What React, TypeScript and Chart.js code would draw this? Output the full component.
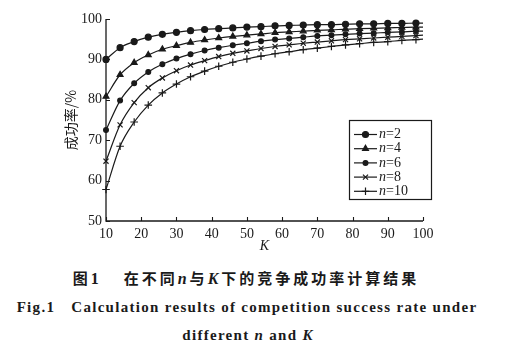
import React, { useEffect, useRef } from 'react';
import { Chart, registerables } from 'chart.js';
import { drawPoint } from 'chart.js/helpers';

Chart.register(...registerables);

const kValues = [10, 14, 18, 22, 26, 30, 34, 38, 42, 46, 50, 54, 58, 62, 66, 70, 74, 78, 82, 86, 90, 94, 98, 100];
const nLabels = ['2', '4', '6', '8', '10'];
const rateN2 = [90.0, 92.9, 94.4, 95.5, 96.2, 96.7, 97.1, 97.4, 97.6, 97.8, 98.0, 98.1, 98.3, 98.4, 98.5, 98.6, 98.6, 98.7, 98.8, 98.8, 98.9, 98.9, 99.0, 99.0];
const rateN4 = [80.8, 86.2, 89.2, 91.1, 92.5, 93.4, 94.2, 94.8, 95.3, 95.7, 96.0, 96.3, 96.6, 96.8, 97.0, 97.2, 97.3, 97.5, 97.6, 97.7, 97.8, 97.9, 98.0, 98.0];
const rateN6 = [72.5, 79.8, 84.1, 86.9, 88.8, 90.2, 91.3, 92.2, 92.9, 93.5, 94.0, 94.5, 94.9, 95.2, 95.5, 95.8, 96.0, 96.2, 96.4, 96.5, 96.7, 96.8, 97.0, 97.0];
const rateN8 = [64.8, 73.8, 79.3, 83.0, 85.4, 87.2, 88.6, 89.7, 90.7, 91.5, 92.1, 92.7, 93.2, 93.6, 94.0, 94.3, 94.6, 94.9, 95.1, 95.3, 95.5, 95.7, 95.9, 96.0];
const rateN10 = [57.8, 68.5, 74.5, 78.7, 81.7, 83.9, 85.7, 87.1, 88.3, 89.3, 90.1, 90.8, 91.4, 91.9, 92.4, 92.8, 93.2, 93.6, 93.9, 94.2, 94.4, 94.7, 94.9, 95.0];
const xTicks = [10, 20, 30, 40, 50, 60, 70, 80, 90, 100];
const yTicks = [50, 60, 70, 80, 90, 100];

const seriesValues = [rateN2, rateN4, rateN6, rateN8, rateN10];
const pointStyles = ['circle', 'triangle', 'circle', 'crossRot', 'cross'];
const pointRadii = [3.0, 3.4, 2.4, 3.6, 3.8];

const INK = '#1a1a1a';
const SERIF = '"Liberation Serif", "DejaVu Serif", serif';
const CJK = '"Noto Sans CJK SC", sans-serif';

const axesPlugin = {
  id: 'inwardAxes',
  afterDraw(chart: any) {
    const { ctx, chartArea } = chart;
    const xs = chart.scales.x;
    const ys = chart.scales.y;
    ctx.save();
    ctx.strokeStyle = INK;
    ctx.lineWidth = 1.3;
    ctx.beginPath();
    ctx.moveTo(chartArea.left, chartArea.top);
    ctx.lineTo(chartArea.left, chartArea.bottom);
    ctx.lineTo(chartArea.right, chartArea.bottom);
    ctx.stroke();
    ctx.lineWidth = 1.1;
    ctx.beginPath();
    xTicks.forEach((v) => {
      const px = Math.round(xs.getPixelForValue(v)) + 0.5;
      ctx.moveTo(px, chartArea.bottom);
      ctx.lineTo(px, chartArea.bottom - 4);
    });
    yTicks.forEach((v) => {
      const py = Math.round(ys.getPixelForValue(v)) + 0.5;
      ctx.moveTo(chartArea.left, py);
      ctx.lineTo(chartArea.left + 4, py);
    });
    ctx.stroke();
    ctx.restore();
  },
};

const legendPlugin = {
  id: 'boxLegend',
  afterDraw(chart: any) {
    const { ctx, chartArea } = chart;
    const x0 = chartArea.right - 74;
    const y0 = chartArea.top + 101;
    const w = 82;
    const h = 79;
    ctx.save();
    ctx.fillStyle = '#fff';
    ctx.fillRect(x0, y0, w, h);
    ctx.strokeStyle = INK;
    ctx.lineWidth = 1.2;
    ctx.strokeRect(x0 + 0.5, y0 + 0.5, w, h);
    chart.data.datasets.forEach((ds: any, i: number) => {
      const cy = y0 + 14.5 + i * 14.2;
      ctx.strokeStyle = INK;
      ctx.fillStyle = INK;
      ctx.lineWidth = 1.2;
      ctx.beginPath();
      ctx.moveTo(x0 + 5, cy);
      ctx.lineTo(x0 + 28, cy);
      ctx.stroke();
      drawPoint(ctx, { pointStyle: pointStyles[i], radius: pointRadii[i], borderWidth: 1.2, rotation: 0 } as any, x0 + 16.5, cy);
      ctx.font = `italic 14px ${SERIF}`;
      ctx.textBaseline = 'middle';
      ctx.textAlign = 'left';
      ctx.fillText('n', x0 + 30, cy);
      const nw = ctx.measureText('n').width;
      ctx.font = `14px ${SERIF}`;
      ctx.fillText('=' + nLabels[i], x0 + 30 + nw, cy);
    });
    ctx.restore();
  },
};

export default function App() {
  const canvasRef = useRef<HTMLCanvasElement | null>(null);

  useEffect(() => {
    if (!canvasRef.current) return;
    const datasets = seriesValues.map((vals, i) => ({
      label: 'n=' + nLabels[i],
      data: kValues.map((k, j) => ({ x: k, y: vals[j] })),
      borderColor: INK,
      backgroundColor: INK,
      borderWidth: 1.2,
      pointStyle: pointStyles[i],
      pointRadius: (c: any) => (c.dataIndex === kValues.length - 1 ? 0 : pointRadii[i]),
      pointBorderWidth: 1.2,
      pointBorderColor: INK,
      pointBackgroundColor: INK,
      cubicInterpolationMode: 'monotone',
      fill: false,
      clip: false,
    }));
    const chart = new Chart(canvasRef.current, {
      type: 'line',
      data: { datasets } as any,
      options: {
        animation: false,
        responsive: false,
        maintainAspectRatio: false,
        layout: { padding: { left: 0, top: 19, right: 85, bottom: 0 } },
        plugins: { legend: { display: false }, tooltip: { enabled: false } },
        scales: {
          x: {
            type: 'linear',
            min: 10,
            max: 100,
            grid: { display: false, drawTicks: false },
            border: { display: false },
            ticks: {
              stepSize: 10,
              padding: 5,
              color: INK,
              font: { family: SERIF, size: 14 },
              maxRotation: 0,
            },
            title: {
              display: true,
              text: 'K',
              color: INK,
              font: { family: SERIF, size: 14, style: 'italic' },
              padding: { top: 0, bottom: 6 },
            },
            afterFit: (s: any) => { s.height = 40; },
          },
          y: {
            type: 'linear',
            min: 50,
            max: 100,
            grid: { display: false, drawTicks: false },
            border: { display: false },
            ticks: {
              stepSize: 10,
              padding: 4,
              color: INK,
              font: { family: SERIF, size: 14 },
            },
            title: {
              display: true,
              text: '成功率/%',
              color: INK,
              font: { family: CJK, size: 14 },
              padding: { top: 62, bottom: 0 },
            },
            afterFit: (s: any) => { s.width = 106; },
          },
        },
      } as any,
      plugins: [axesPlugin, legendPlugin],
    });
    return () => chart.destroy();
  }, []);

  const cap: React.CSSProperties = {
    position: 'absolute',
    left: 0,
    width: 508,
    textAlign: 'center',
    color: INK,
    whiteSpace: 'nowrap',
  };

  return (
    <div style={{ position: 'absolute', left: 0, top: 0, width: 508, height: 360, background: '#fff', overflow: 'hidden' }}>
      <canvas ref={canvasRef} width={508} height={261} style={{ position: 'absolute', left: 0, top: 0, width: 508, height: 261 }} />
      <div style={{ ...cap, top: 268, height: 20, lineHeight: '20px', fontFamily: CJK, fontSize: 15, fontWeight: 700, letterSpacing: 3, left: -8 }}>
        图<span style={{ fontFamily: SERIF, fontSize: 16 }}>1</span>
        <span style={{ display: 'inline-block', width: 22 }} />
        在不同<span style={{ fontFamily: SERIF, fontStyle: 'italic', fontSize: 16 }}>n</span>与<span style={{ fontFamily: SERIF, fontStyle: 'italic', fontSize: 16 }}>K</span>下的竞争成功率计算结果
      </div>
      <div style={{ ...cap, top: 297, height: 20, lineHeight: '20px', fontFamily: SERIF, fontSize: 15, fontWeight: 700, letterSpacing: 1.3, left: -7 }}>
        Fig.1<span style={{ display: 'inline-block', width: 16 }} />Calculation results of competition success rate under
      </div>
      <div style={{ ...cap, top: 325, height: 20, lineHeight: '20px', fontFamily: SERIF, fontSize: 15, fontWeight: 700, letterSpacing: 1.3, left: -6 }}>
        different <span style={{ fontStyle: 'italic' }}>n</span> and <span style={{ fontStyle: 'italic' }}>K</span>
      </div>
    </div>
  );
}
